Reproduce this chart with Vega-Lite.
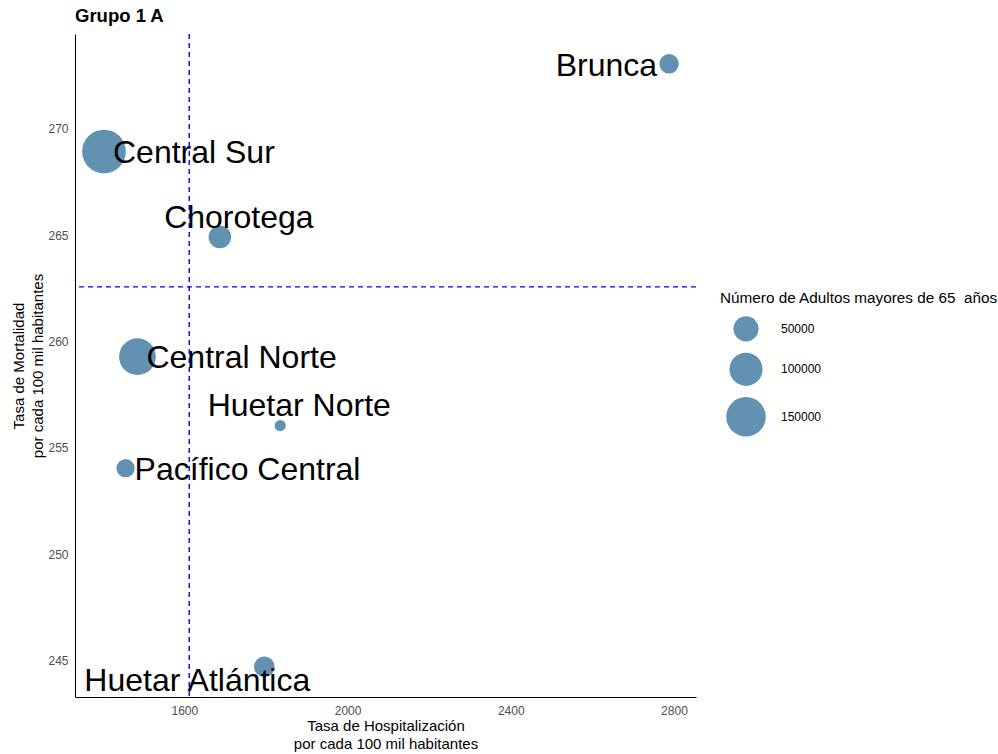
{
  "$schema": "https://vega.github.io/schema/vega-lite/v6.json",
  "autosize": {"type": "none"},
  "width": 621,
  "height": 663,
  "padding": {"left": 75, "top": 34, "right": 302, "bottom": 57},
  "background": "white",
  "title": {"text": "Grupo 1 A", "anchor": "start", "frame": "group", "fontSize": 18.5, "fontWeight": "bold", "font": "Liberation Sans", "color": "black", "offset": 8},
  "datasets": {
    "regiones": [
      {"region": "Brunca", "hosp": 2788, "mort": 273.05, "pob": 28700},
      {"region": "Central Sur", "hosp": 1403, "mort": 268.93, "pob": 197200},
      {"region": "Chorotega", "hosp": 1687, "mort": 264.91, "pob": 39100},
      {"region": "Central Norte", "hosp": 1485, "mort": 259.29, "pob": 126700},
      {"region": "Huetar Norte", "hosp": 1835, "mort": 256.05, "pob": 16500},
      {"region": "Pacífico Central", "hosp": 1456, "mort": 254.05, "pob": 25600},
      {"region": "Huetar Atlántica", "hosp": 1796, "mort": 244.72, "pob": 32200}
    ],
    "referencia": [
      {"hosp": 1612, "mort": 262.57}
    ]
  },
  "data": {"name": "regiones"},
  "encoding": {
    "x": {"field": "hosp", "type": "quantitative", "scale": {"domain": [1332, 2854], "nice": false, "zero": false},
      "axis": {"title": ["Tasa de Hospitalización", "por cada 100 mil habitantes"], "values": [1600, 2000, 2400, 2800], "format": "d", "labelPadding": 8, "titlePadding": 2, "titleLineHeight": 18}},
    "y": {"field": "mort", "type": "quantitative", "scale": {"domain": [243.3, 274.45], "nice": false, "zero": false},
      "axis": {"title": ["Tasa de Mortalidad", "por cada 100 mil habitantes"], "values": [245, 250, 255, 260, 265, 270], "format": "d", "labelPadding": 7, "titlePadding": 2, "titleLineHeight": 19}}
  },
  "layer": [
    {
      "mark": {"type": "circle", "color": "#6391B1", "opacity": 1, "strokeWidth": 0},
      "encoding": {
        "size": {"field": "pob", "type": "quantitative",
          "scale": {"type": "linear", "zero": false, "domain": [16500, 20000, 30000, 50000, 100000, 150000, 200000], "range": [125, 246, 401, 633, 1099, 1562, 1932]},
          "legend": {"orient": "none", "legendX": 645, "legendY": 257, "title": "Número de Adultos mayores de 65\u00a0 años",
            "titleFontSize": 15.3, "titleFontWeight": "normal", "titleColor": "black", "titleFont": "Liberation Sans", "titleLimit": 400,
            "labelFontSize": 12, "labelColor": "black", "labelFont": "Liberation Sans", "format": "d",
            "values": [50000, 100000, 150000], "symbolFillColor": "#6391B1", "symbolStrokeWidth": 0, "symbolOpacity": 1,
            "symbolType": "circle", "labelOffset": 15, "rowPadding": 10.5, "titlePadding": 9.5, "symbolOffset": 6}}
      }
    },
    {
      "transform": [{"filter": {"field": "region", "oneOf": ["Central Sur", "Central Norte", "Pacífico Central"]}}],
      "mark": {"type": "text", "align": "left", "baseline": "alphabetic", "dx": 9, "dy": 11.5, "fontSize": 32, "font": "Liberation Sans", "color": "black"},
      "encoding": {"text": {"field": "region"}}
    },
    {
      "transform": [{"filter": {"field": "region", "oneOf": ["Chorotega", "Huetar Norte"]}}],
      "mark": {"type": "text", "align": "center", "baseline": "alphabetic", "dx": 19, "dy": -9.3, "fontSize": 32, "font": "Liberation Sans", "color": "black"},
      "encoding": {"text": {"field": "region"}}
    },
    {
      "transform": [{"filter": {"field": "region", "equal": "Brunca"}}],
      "mark": {"type": "text", "align": "right", "baseline": "alphabetic", "dx": -12, "dy": 12, "fontSize": 32, "font": "Liberation Sans", "color": "black"},
      "encoding": {"text": {"field": "region"}}
    },
    {
      "transform": [{"filter": {"field": "region", "equal": "Huetar Atlántica"}}],
      "mark": {"type": "text", "align": "center", "baseline": "alphabetic", "dx": -67, "dy": 24, "fontSize": 32, "font": "Liberation Sans", "color": "black"},
      "encoding": {"text": {"field": "region"}}
    },
    {
      "data": {"name": "referencia"},
      "mark": {"type": "rule", "color": "#0000FF", "strokeWidth": 1.4, "strokeDash": [5, 4]},
      "encoding": {"x": {"field": "hosp", "type": "quantitative"}, "y": null}
    },
    {
      "data": {"name": "referencia"},
      "mark": {"type": "rule", "color": "#0000FF", "strokeWidth": 1.4, "strokeDash": [5, 4]},
      "encoding": {"y": {"field": "mort", "type": "quantitative"}, "x": null}
    }
  ],
  "config": {
    "view": {"stroke": null},
    "font": "Liberation Sans",
    "axis": {"grid": false, "ticks": false, "domainColor": "black", "domainWidth": 1.1, "labelColor": "#4D4D4D", "labelFontSize": 12, "labelFont": "Liberation Sans", "titleFont": "Liberation Sans", "titleFontSize": 15, "titleFontWeight": "normal", "titleColor": "black"}
  }
}
